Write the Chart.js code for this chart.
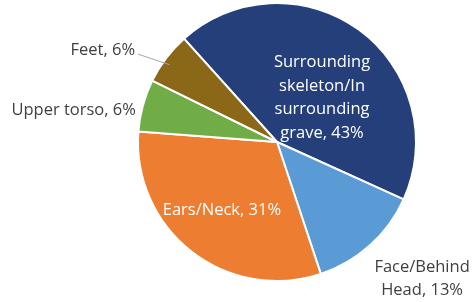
<!DOCTYPE html>
<html lang="en">
<head>
    <meta charset="UTF-8">
    <title>Location pie chart</title>
    <script src="https://cdn.jsdelivr.net/npm/chart.js@4.4.1/dist/chart.umd.min.js"></script>
    <style>
        body { margin: 0; background: #fff; }
        #wrap { width: 473px; height: 302px; }
    </style>
</head>
<body>
<div id="wrap"><canvas id="myChart" width="473" height="302"></canvas></div>

<script>
    // chart data
    var categories = [
      ["Surrounding", "skeleton/In", "surrounding", "grave"],
      ["Face/Behind", "Head"],
      ["Ears/Neck"],
      ["Upper torso"],
      ["Feet"]
    ];
    var percentValues = [43, 13, 31, 6, 6];
    var sliceColors = ["#243f7a", "#5b9bd5", "#ed7d31", "#70ad47", "#8b6718"];

    // where each label goes relative to its slice
    var labelPlace = [
      { dist: 0.5, dx: 4, dy: 12, align: "center", color: "#ffffff" },
      { dist: 1.42, dx: 13, dy: -10, align: "center", color: "#404040" },
      { dist: 0.62, dx: -2, dy: 0, align: "center", color: "#ffffff" },
      { dist: 1.0, dx: -7, dy: 5, align: "right", color: "#404040" },
      { dist: 1.0, dx: -31, dy: -8, align: "right", color: "#404040", leader: true }
    ];

    var sliceLabels = {
      id: "sliceLabels",
      afterDatasetsDraw: function(chart) {
        var ctx = chart.ctx;
        var meta = chart.getDatasetMeta(0);
        ctx.save();
        ctx.font = "16.5px 'Open Sans'";
        ctx.textBaseline = "middle";
        meta.data.forEach(function(arc, i) {
          var p = arc.getProps(["x", "y", "startAngle", "endAngle", "outerRadius"], true);
          var mid = (p.startAngle + p.endAngle) / 2;
          var r = p.outerRadius * labelPlace[i].dist;
          var x = p.x + Math.cos(mid) * r + labelPlace[i].dx;
          var y = p.y + Math.sin(mid) * r + labelPlace[i].dy;
          var lines = categories[i].slice();
          lines[lines.length - 1] += ", " + percentValues[i] + "%";
          if (labelPlace[i].leader) {
            var ex = p.x + Math.cos(mid) * p.outerRadius * 0.97;
            var ey = p.y + Math.sin(mid) * p.outerRadius * 0.97 + 4;
            ctx.strokeStyle = "#a6a6a6";
            ctx.lineWidth = 1;
            ctx.beginPath();
            ctx.moveTo(ex, ey);
            ctx.lineTo(x + 3, y + 4);
            ctx.stroke();
          }
          ctx.fillStyle = labelPlace[i].color;
          ctx.textAlign = labelPlace[i].align;
          var lh = 23.5;
          var top = y - (lines.length - 1) * lh / 2;
          lines.forEach(function(t, k) {
            ctx.fillText(t, x, top + k * lh);
          });
        });
        ctx.restore();
      }
    };

    var ctx = document.getElementById('myChart').getContext('2d');
    var myChart = new Chart(ctx, {
      type: 'pie',
      data: {
        labels: categories.map(function(c) { return c.join(" "); }),
        datasets: [{
          data: percentValues,
          backgroundColor: sliceColors,
          borderColor: "#ffffff",
          borderWidth: 2
        }]
      },
      options: {
        responsive: false,
        animation: false,
        rotation: -42,
        layout: { padding: { left: 81, right: 0, top: 2, bottom: 20 } },
        plugins: {
          legend: { display: false },
          tooltip: { enabled: false }
        }
      },
      plugins: [sliceLabels]
    });
</script>
</body>
</html>
